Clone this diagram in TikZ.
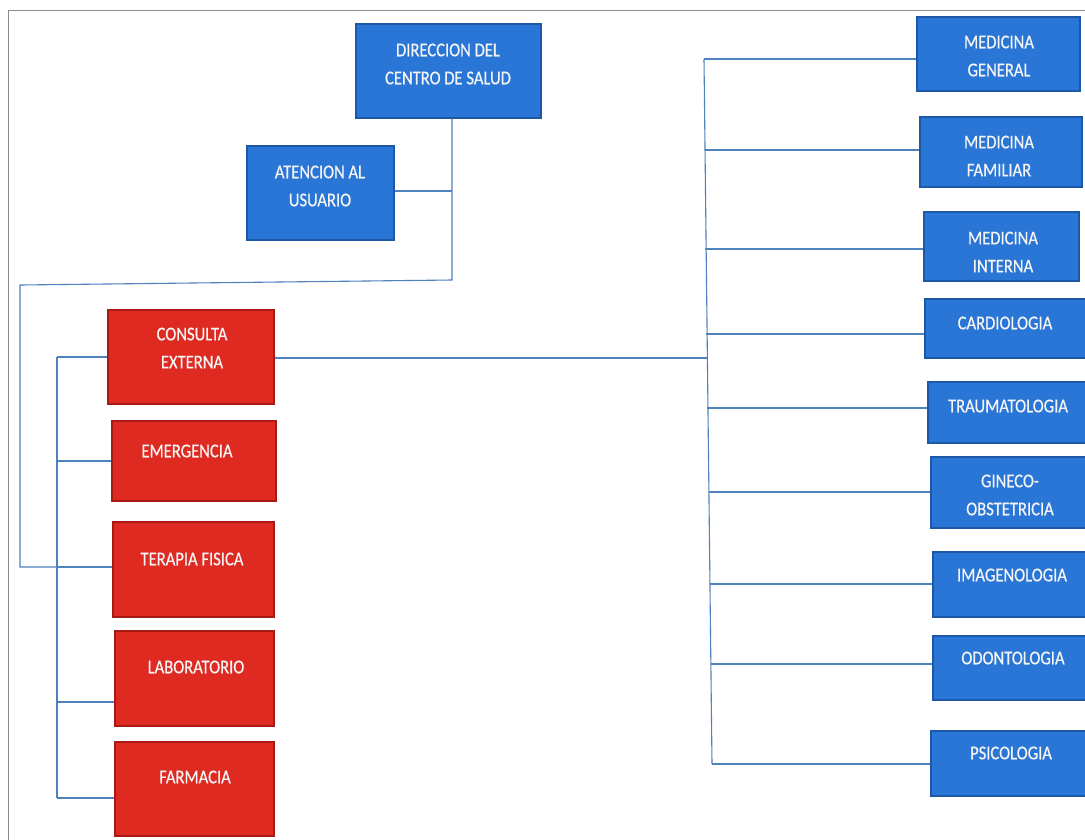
\documentclass[tikz,border=0pt]{standalone}
\usepackage{fontspec}
\setmainfont{Carlito}[FakeStretch=0.85, FakeBold=0.5]
\definecolor{bfill}{HTML}{2A76D6}
\definecolor{bdraw}{HTML}{1D58A6}
\definecolor{rfill}{HTML}{DF2A22}
\definecolor{rdraw}{HTML}{A81A14}
\definecolor{conncol}{HTML}{4F81BD}
\definecolor{framecol}{HTML}{8A8A8A}
\tikzset{
  bluebox/.style={draw=bdraw, fill=bfill, line width=1.3pt, rectangle, inner sep=0pt},
  redbox/.style={draw=rdraw, fill=rfill, line width=1.3pt, rectangle, inner sep=0pt},
  lbl/.style={text=white!96!black, align=center, inner sep=0pt, font=\fontsize{19.5}{28}\selectfont},
  conn/.style={draw=conncol, line width=1.1pt}
}
\newcommand{\boxat}[6]{% style, name, x1, y1, x2, y2
  \node[#1, minimum width={(#5)-(#3)}, minimum height={(#6)-(#4)}] (#2) at ({((#3)+(#5))/2},{((#4)+(#6))/2}) {};}
\begin{document}
\begin{tikzpicture}[x=1pt,y=-1pt]
\useasboundingbox[fill=white] (0,0) rectangle (1085,839);
% frame
\draw[framecol, line width=1pt] (8,860) -- (8,10) -- (1100,10);

% boxes
\boxat{bluebox}{dir}{356}{24}{541}{118}
\boxat{bluebox}{ate}{247}{146}{394}{240}
\boxat{redbox}{con}{108}{310}{274}{404}
\boxat{redbox}{eme}{112}{421}{276}{501}
\boxat{redbox}{ter}{113}{522}{274}{617}
\boxat{redbox}{lab}{115}{631}{274}{726}
\boxat{redbox}{far}{115}{742}{274}{836}
\boxat{bluebox}{mg}{917}{17}{1080}{91}
\boxat{bluebox}{mf}{920}{117}{1082}{187}
\boxat{bluebox}{mi}{924}{212}{1079}{281}
\boxat{bluebox}{car}{925}{299}{1095}{358}
\boxat{bluebox}{tra}{928}{382}{1095}{443}
\boxat{bluebox}{gin}{931}{457}{1095}{528}
\boxat{bluebox}{ima}{933}{552}{1095}{617}
\boxat{bluebox}{odo}{933}{636}{1095}{700}
\boxat{bluebox}{psi}{931}{731}{1095}{796}

% labels
\node[lbl] (dirt) at (448,64) {DIRECCION DEL\\CENTRO DE SALUD};
\node[lbl] (atet) at (320,186) {ATENCION AL\\USUARIO};
\node[lbl] (cont) at (192,348) {CONSULTA\\EXTERNA};
\node[lbl] (emet) at (187,451) {EMERGENCIA};
\node[lbl] (tert) at (192,559) {TERAPIA FISICA};
\node[lbl] (labt) at (196,667) {LABORATORIO};
\node[lbl] (fart) at (195,777) {FARMACIA};
\node[lbl] (mgt) at (999,56) {MEDICINA\\GENERAL};
\node[lbl] (mft) at (999,156) {MEDICINA\\FAMILIAR};
\node[lbl] (mit) at (1003,252) {MEDICINA\\INTERNA};
\node[lbl] (cart) at (1005,323) {CARDIOLOGIA};
\node[lbl] (trat) at (1008,406) {TRAUMATOLOGIA};
\node[lbl] (gint) at (1010,495) {GINECO-\\OBSTETRICIA};
\node[lbl] (imat) at (1012,575) {IMAGENOLOGIA};
\node[lbl] (odot) at (1013,658) {ODONTOLOGIA};
\node[lbl] (psit) at (1011,753) {PSICOLOGIA};

% top connectors
\coordinate (tjoin) at (452,191);
\coordinate (tbot) at (452,280);
\coordinate (lcorner) at (20,285);
\coordinate (lend) at (20,567);
\draw[conn] (dir.south -| tjoin) -- (tbot) -- (lcorner) -- (lend) -- (lend -| 57,0);
\draw[conn] (ate.east |- tjoin) -- (tjoin);

% left bus
\coordinate (lb1) at (57,357);
\coordinate (lb2) at (57,461);
\coordinate (lb3) at (57,567);
\coordinate (lb4) at (57,702);
\coordinate (lb5) at (57,798);
\draw[conn] (lb1) -- (lb5);
\draw[conn] (lb1) -- (lb1 -| con.west);
\draw[conn] (lb2) -- (lb2 -| eme.west);
\draw[conn] (lb3) -- (lb3 -| ter.west);
\draw[conn] (lb4) -- (lb4 -| lab.west);
\draw[conn] (lb5) -- (lb5 -| far.west);

% right bus
\coordinate (rb0) at (708,358);
\coordinate (rb1) at (704,59);
\coordinate (rb2) at (705,150);
\coordinate (rb3) at (705,249);
\coordinate (rb4) at (706,334);
\coordinate (rb5) at (707,408);
\coordinate (rb6) at (709,492);
\coordinate (rb7) at (710,584);
\coordinate (rb8) at (711,664);
\coordinate (rb9) at (712,764);
\draw[conn] (con.east |- rb0) -- (rb0);
\draw[conn] (rb1) -- (rb9);
\draw[conn] (rb1) -- (rb1 -| mg.west);
\draw[conn] (rb2) -- (rb2 -| mf.west);
\draw[conn] (rb3) -- (rb3 -| mi.west);
\draw[conn] (rb4) -- (rb4 -| car.west);
\draw[conn] (rb5) -- (rb5 -| tra.west);
\draw[conn] (rb6) -- (rb6 -| gin.west);
\draw[conn] (rb7) -- (rb7 -| ima.west);
\draw[conn] (rb8) -- (rb8 -| odo.west);
\draw[conn] (rb9) -- (rb9 -| psi.west);
\end{tikzpicture}
\end{document}
